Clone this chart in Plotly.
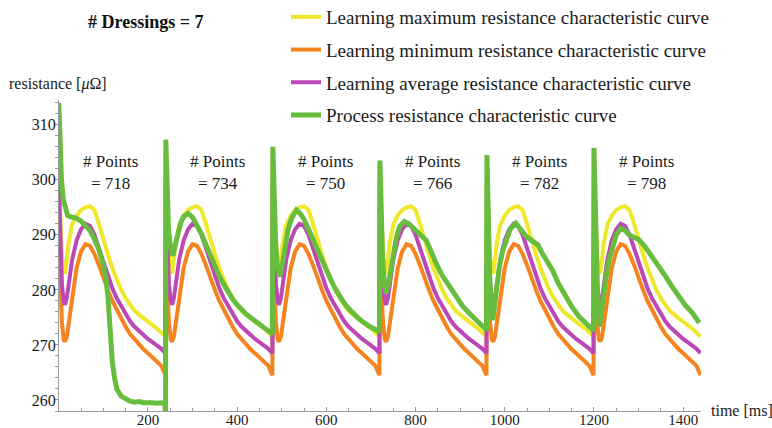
import plotly.graph_objects as go

# ---------------- data ----------------
CYCLE_STARTS = [0, 240, 480, 720, 960, 1200]
POINT_COUNTS = [718, 734, 750, 766, 782, 798]
LABEL_T = [117, 357, 597, 837, 1077, 1317]

# learning curves (same profile in every cycle), cycle-relative time [ms]
T_LEARN = [0, 3, 7, 11, 14, 18, 22, 30, 40, 50, 60, 70, 80, 90, 100, 110, 120,
           130, 140, 150, 160, 170, 180, 190, 200, 210, 220, 230, 239]
LEARN_MAX = [301, 293, 286, 283.5, 283, 285.5, 288.5, 291.8, 293.5, 294.5, 295, 295.2,
             294.5, 292, 289, 286.5, 284, 282, 280, 278.5, 277.2, 276.2, 275.5, 274.8,
             274.2, 273.6, 273, 272.3, 271.5]
LEARN_MIN = [290, 281, 274, 271, 270.6, 271.5, 274, 279, 284, 287, 288.3, 288, 286.5,
             284.5, 282, 280, 278, 276.3, 274.8, 273.3, 272, 271, 270, 269.2, 268.5,
             267.8, 267, 266.2, 264.5]
LEARN_AVG = [300, 290, 281, 278, 277.3, 278.5, 281, 285.5, 289, 291, 292, 291.6, 290,
             287.5, 285, 282.5, 280.3, 278.5, 277, 275.6, 274.3, 273.3, 272.5, 271.8,
             271.1, 270.5, 269.9, 269.3, 268.5]

# process curve, per cycle (cycle-relative time [ms])
G1_T = [0, 3, 6, 10, 15, 20, 30, 40, 50, 60, 70, 80, 90, 100, 106, 110, 113, 116, 120,
        125, 130, 140, 150, 160, 170, 180, 190, 200, 210, 220, 230, 238, 239.5]
G1_V = [314, 306, 300, 296.5, 294.5, 293.5, 293.2, 293, 292.5, 291.8, 290.8, 289.2, 287.3,
        284.5, 282, 279, 275, 271, 267, 264, 262, 260.7, 260.2, 259.8, 259.6, 259.7, 259.5,
        259.6, 259.5, 259.4, 259.5, 259.3, 257.5]
G2_T = [0, 3, 6, 10, 16, 22, 28, 34, 40, 50, 60, 70, 80, 90, 100, 110, 120, 130, 140, 150,
        160, 170, 180, 190, 200, 210, 220, 230, 239]
G2_V = [307.3, 298, 291, 288, 286.2, 288.5, 290.9, 292.3, 293.3, 293.9, 293.2, 291.8, 290.2,
        288.2, 286.2, 284.2, 282.5, 281, 279.6, 278.3, 277.3, 276.4, 275.6, 275, 274.4, 273.8,
        273.1, 272.5, 272]
G3_T = [0, 3, 6, 10, 15, 20, 27, 34, 42, 53, 60, 70, 80, 90, 100, 110, 120, 130, 140, 150,
        160, 170, 180, 190, 200, 210, 220, 230, 239]
G3_V = [306, 296, 289, 284.5, 282.4, 284, 288, 290.9, 293, 294.5, 294, 292.8, 291, 289.1,
        287.3, 285.3, 283.5, 281.8, 280.2, 278.8, 277.6, 276.6, 275.7, 275, 274.3, 273.7,
        273.2, 272.8, 272.3]
G4_T = [0, 3, 6, 10, 14, 20, 29, 37, 44, 55, 65, 75, 85, 95, 104, 115, 126, 140, 156, 170,
        186, 200, 216, 228, 239]
G4_V = [303.5, 293, 286, 281, 279.4, 281.5, 286, 289.5, 291.5, 292.4, 292, 291.2, 290.5,
        289.8, 289, 287, 284.8, 282.6, 280.6, 278.8, 277, 275.8, 274.5, 273.5, 272.7]
G5_T = [0, 3, 6, 10, 13, 17, 22, 28, 35, 43, 52, 65, 75, 88, 100, 114, 125, 135, 147, 160,
        177, 190, 207, 220, 233, 239]
G5_V = [304.5, 292, 283, 276.5, 274.5, 277, 280.5, 284.2, 287, 289.1, 291, 292.1, 291.2,
        289.7, 289, 288.2, 286.5, 285.2, 283.6, 281.2, 278.8, 277, 275.1, 274, 273, 272.6]
G6_T = [0, 3, 6, 9, 12, 16, 21, 27, 34, 41, 50, 60, 70, 79, 90, 101, 115, 131, 145, 161,
        175, 191, 205, 221, 230, 236]
G6_V = [305.8, 292, 282, 276, 273.3, 276, 279, 282.4, 285.5, 287.9, 290, 291.2, 290.8, 290,
        289.6, 289.1, 287.8, 286, 284.2, 282.4, 280.6, 278.8, 277.2, 275.8, 274.8, 274]
PROCESS_T = [G1_T, G2_T, G3_T, G4_T, G5_T, G6_T]
PROCESS_V = [G1_V, G2_V, G3_V, G4_V, G5_V, G6_V]

X_TICK_STEP, X_MINOR_STEP = 200, 50
Y_TICK_STEP, Y_MINOR_STEP = 10, 2

NAMES = ["Learning maximum resistance characteristic curve",
         "Learning minimum resistance characteristic curve",
         "Learning average resistance characteristic curve",
         "Process resistance characteristic curve"]
COLORS = ["#EFE82A", "#F5841F", "#BB48B5", "#69BD3E"]

# ---------------- build ----------------
FONT = "Liberation Serif, Times New Roman, serif"
W, H = 772, 428
ML, MR, MT, MB = 59, 71, 100, 17
PW, PH = W - ML - MR, H - MT - MB


def px_to_paper(px, py):
    return (px - ML) / PW, (H - MB - py) / PH


def learn_series(profile):
    xs, ys = [], []
    for s in CYCLE_STARTS:
        xs += [s + t for t in T_LEARN]
        ys += profile
    return xs, ys


gx, gy = [], []
for s, ts, vs in zip(CYCLE_STARTS, PROCESS_T, PROCESS_V):
    gx += [s + t for t in ts]
    gy += vs

fig = go.Figure()
for i, prof in enumerate([LEARN_MAX, LEARN_MIN, LEARN_AVG]):
    x, y = learn_series(prof)
    fig.add_trace(go.Scatter(x=x, y=y, mode="lines", name=NAMES[i], legendgroup=str(i),
                             line=dict(color=COLORS[i], width=4)))
fig.add_trace(go.Scatter(x=gx, y=gy, mode="lines", name=NAMES[3], legendgroup="3",
                         line=dict(color=COLORS[3], width=5)))

for t, n in zip(LABEL_T, POINT_COUNTS):
    fig.add_annotation(x=t, y=301.4, xref="x", yref="y", yanchor="middle",
                       text=f"# Points<br>= {n}", showarrow=False,
                       font=dict(family=FONT, size=17, color="#1a1a1a"))

tx, ty = px_to_paper(145, 22)
fig.add_annotation(x=tx, y=ty, xref="paper", yref="paper", xanchor="center", yanchor="middle",
                   text="<b># Dressings = 7</b>", showarrow=False,
                   font=dict(family=FONT, size=18, color="#111"))
lx, ly = px_to_paper(7, 84)
fig.add_annotation(x=lx, y=ly, xref="paper", yref="paper", xanchor="left", yanchor="middle",
                   text="resistance [<i>μ</i>Ω]", showarrow=False,
                   font=dict(family=FONT, size=16, color="#1a1a1a"))
bx, by = px_to_paper(709, 410)
fig.add_annotation(x=bx, y=by, xref="paper", yref="paper", xanchor="left", yanchor="middle",
                   text="time [ms]", showarrow=False,
                   font=dict(family=FONT, size=16, color="#1a1a1a"))

legx, legy = px_to_paper(286, -2)
fig.update_layout(
    width=W, height=H,
    margin=dict(l=ML, r=MR, t=MT, b=MB, autoexpand=False),
    paper_bgcolor="white", plot_bgcolor="white",
    showlegend=True,
    legend=dict(x=legx, y=legy, xanchor="left", yanchor="top", tracegroupgap=5,
                font=dict(family=FONT, size=19, color="#1a1a1a"),
                bgcolor="rgba(0,0,0,0)"),
)

fig.update_xaxes(range=[0.5, 1440], tickmode="linear", tick0=0, dtick=X_TICK_STEP,
                 showgrid=False, zeroline=False, showline=True, linecolor="#9a9a9a",
                 linewidth=1, ticks="inside", ticklen=4, tickcolor="#9a9a9a",
                 ticklabelstandoff=-5,
                 minor=dict(dtick=X_MINOR_STEP, ticks="inside", ticklen=3,
                            tickcolor="#9a9a9a", showgrid=False),
                 tickfont=dict(family=FONT, size=15, color="#1a1a1a"), automargin=False)
fig.update_yaxes(range=[258, 314.5], tickmode="linear", tick0=260, dtick=Y_TICK_STEP,
                 showgrid=False, zeroline=False, showline=True, linecolor="#9a9a9a",
                 linewidth=1, ticks="outside", ticklen=4, tickcolor="#9a9a9a",
                 ticklabelstandoff=-5,
                 minor=dict(dtick=Y_MINOR_STEP, ticks="outside", ticklen=3,
                            tickcolor="#9a9a9a", showgrid=False),
                 tickfont=dict(family=FONT, size=16, color="#1a1a1a"), automargin=False)

fig.write_html("out.html", config={"displayModeBar": False},
               post_script="document.body.style.margin='0';")
